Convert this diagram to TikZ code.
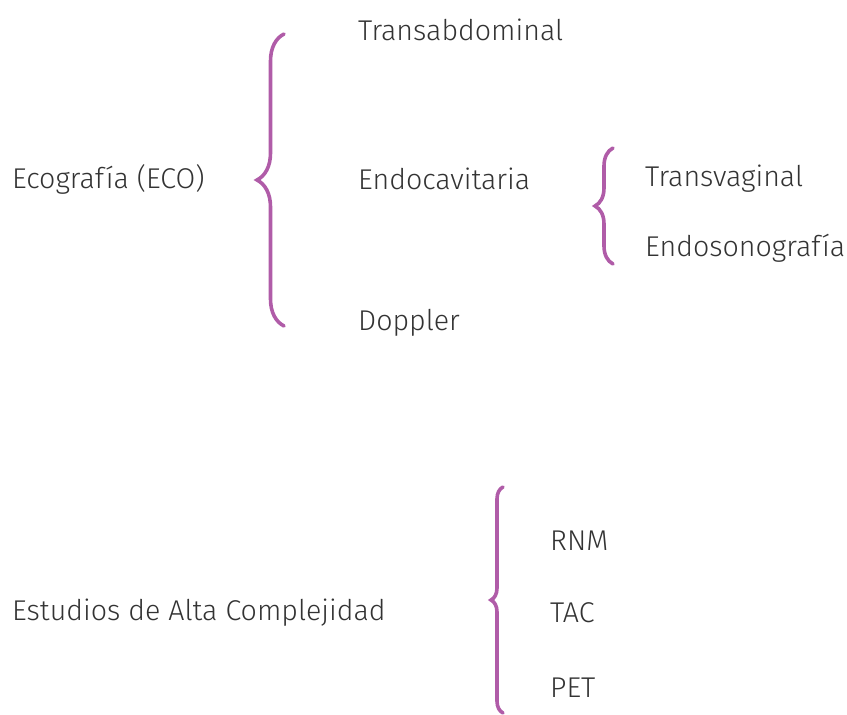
\documentclass[tikz,border=0pt]{standalone}
\usepackage{fontspec}
\setmainfont{Fira Sans}[UprightFont={* Light}]
\usetikzlibrary{decorations.pathreplacing}
\definecolor{bracepurple}{RGB}{176,92,168}

\begin{document}
\begin{tikzpicture}[x=1pt,y=-1pt,
    item/.style={anchor=west,inner sep=0pt,font={\fontsize{28.6}{32}\selectfont},text=black!80},
    curly/.style={draw=bracepurple,line width=3.6pt,line cap=round,
        decorate,decoration={brace,amplitude=#1}}]
\useasboundingbox (0,0) rectangle (847,715);

% first group
\node[item] (eco) at (12,179) {Ecografía (ECO)};
\node[item] (trans) at (358,30) {Transabdominal};
\node[item] (endo) at (358,179) {Endocavitaria};
\node[item] (dopp) at (358,323) {Doppler};
\node[item] (tvag) at (645,179) {Transvaginal};
\node[item] (endoso) at (645,248) {Endosonografía};

\coordinate (b1top) at (284,34);
\coordinate (b1bot) at (284,326);
\draw[curly=27pt] (b1bot) -- (b1top);

\coordinate (b2top) at (613,148);
\coordinate (b2bot) at (613,264);
\draw[curly=18pt] (b2bot) -- (b2top);

% second group
\node[item] (alta) at (12,613) {Estudios de Alta Complejidad};
\node[item] (rnm) at (550,541) {RNM};
\node[item] (tac) at (550,613) {TAC};
\node[item] (pet) at (550,688) {PET};

\coordinate (b3top) at (503,487);
\coordinate (b3bot) at (503,713);
\draw[curly=12pt] (b3bot) -- (b3top);
\end{tikzpicture}
\end{document}
